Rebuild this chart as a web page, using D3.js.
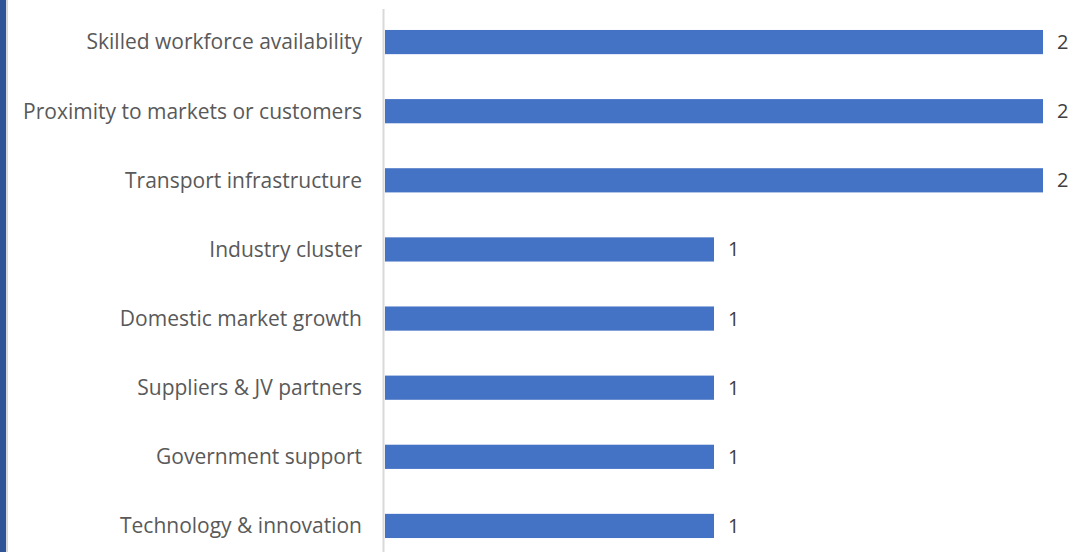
<!DOCTYPE html>
<html>
<head>
<meta charset="utf-8">
<script src="https://cdn.jsdelivr.net/npm/d3@7"></script>
<style>
  body { margin: 0; background: #fff; overflow: hidden; }
  svg { display: block; }
</style>
</head>
<body>
<div id="chart"></div>
<script>
const categories = [
  "Skilled workforce availability",
  "Proximity to markets or customers",
  "Transport infrastructure",
  "Industry cluster",
  "Domestic market growth",
  "Suppliers & JV partners",
  "Government support",
  "Technology & innovation"
];
const values = [2, 2, 2, 1, 1, 1, 1, 1];

const W = 1092, H = 552;
const plotLeft = 385, plotRight = 1043;

const svg = d3.select("#chart")
  .append("svg")
  .attr("width", W)
  .attr("height", H);

// frame on the left edge
svg.append("rect").attr("x", 0).attr("y", 0).attr("width", 6).attr("height", H).attr("fill", "#2F5597");
svg.append("rect").attr("x", 6).attr("y", 0).attr("width", 2).attr("height", H).attr("fill", "#d9d9d9");

const x = d3.scaleLinear()
  .domain([0, 2])
  .range([plotLeft, plotRight]);

const y = d3.scaleBand()
  .domain(categories)
  .range([7.5, 560.5])
  .paddingInner(0.65)
  .paddingOuter(0.325);

// category axis line
svg.append("line")
  .attr("x1", plotLeft - 1.5).attr("x2", plotLeft - 1.5)
  .attr("y1", 9).attr("y2", H)
  .attr("stroke", "#d9d9d9")
  .attr("stroke-width", 2);

svg.selectAll(".bar")
  .data(values)
  .enter()
  .append("rect")
  .attr("class", "bar")
  .attr("x", x(0))
  .attr("y", (d, i) => y(categories[i]))
  .attr("width", d => x(d) - x(0))
  .attr("height", y.bandwidth())
  .attr("fill", "#4472C4");

// category labels
svg.selectAll(".cat")
  .data(categories)
  .enter()
  .append("text")
  .attr("class", "cat")
  .attr("x", 362)
  .attr("y", d => y(d) + y.bandwidth() / 2)
  .attr("dy", "0.35em")
  .attr("text-anchor", "end")
  .style("font-family", "'Open Sans', 'Noto Sans', sans-serif")
  .style("font-size", "21px")
  .style("fill", "#595959")
  .text(d => d);

// value labels
svg.selectAll(".val")
  .data(values)
  .enter()
  .append("text")
  .attr("class", "val")
  .attr("x", d => x(d) + 14)
  .attr("y", (d, i) => y(categories[i]) + y.bandwidth() / 2)
  .attr("dy", "0.35em")
  .style("font-family", "'Open Sans', 'Noto Sans', sans-serif")
  .style("font-size", "20px")
  .style("fill", "#404040")
  .text(d => d);
</script>
</body>
</html>
